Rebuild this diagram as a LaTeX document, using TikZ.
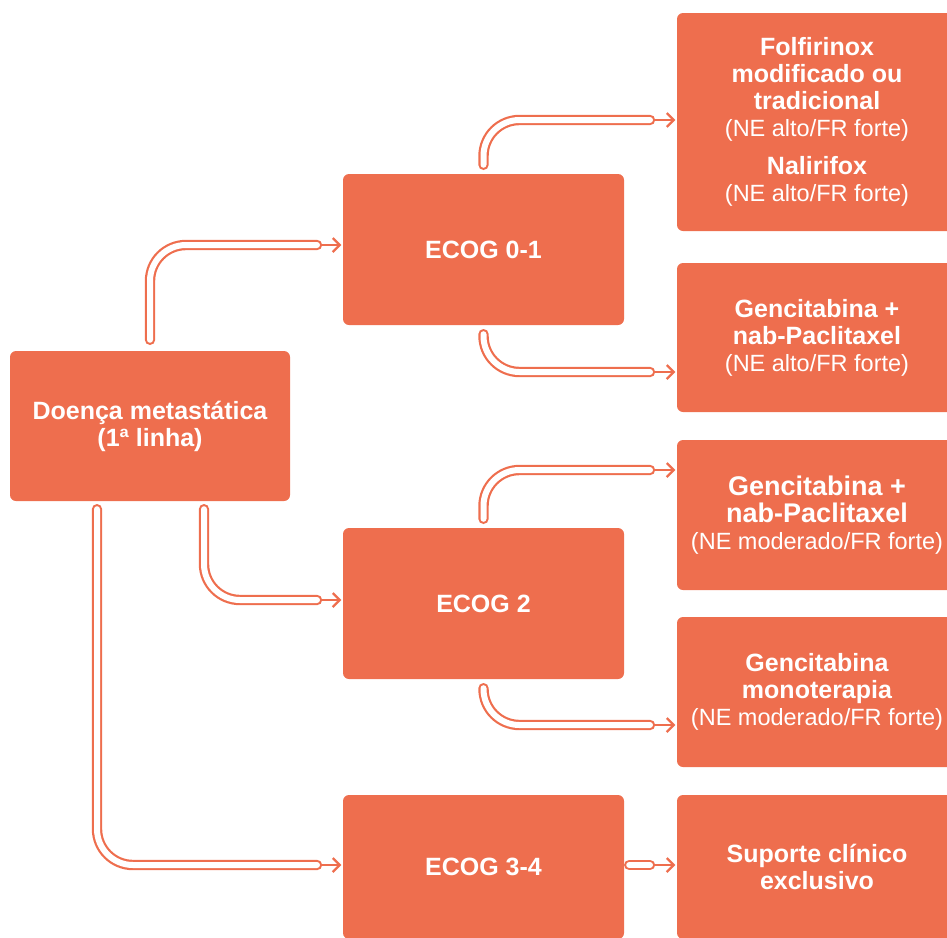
\documentclass[tikz,border=0pt]{standalone}
\usepackage{fontspec}
\setmainfont{Liberation Sans}
\usetikzlibrary{arrows.meta}
\definecolor{coral}{HTML}{EE6E4E}
\newcommand\nefr[1]{{\mdseries\fontsize{23.5}{27}\selectfont #1}}

\begin{document}
\begin{tikzpicture}[x=1pt,y=-1pt,
    box/.style={fill=coral,rounded corners=6,text=white,align=center,inner sep=0,
        font=\fontsize{25}{27}\selectfont\bfseries},
    tube/.style={draw=coral,line width=2.2,double=white,double distance=6,
        rounded corners=36,line cap=round},
    arr/.style={draw=coral,line width=2.2,-{Straight Barb[length=7,width=14]},shorten >=1.5}]
    \useasboundingbox (0,0) rectangle (947,937);
    % left column
    \node[box,minimum width=280,minimum height=150] (doenca) at (150,426) {Doença metastática\\(1ª linha)};
    % ECOG column
    \node[box,minimum width=281,minimum height=151] (ecog01) at (483.5,249.5) {ECOG 0-1};
    \node[box,minimum width=281,minimum height=151] (ecog2) at (483.5,603.5) {ECOG 2};
    \node[box,minimum width=281,minimum height=144] (ecog34) at (483.5,867) {ECOG 3-4};
    % treatments
    \node[box,minimum width=280,minimum height=218] (folfiri) at (817,122)
        {Folfirinox\\modificado ou\\tradicional\\\nefr{(NE alto/FR forte)}\\[11pt]Nalirifox\\\nefr{(NE alto/FR forte)}};
    \node[box,minimum width=280,minimum height=149] (gemnab) at (817,337.5)
        {Gencitabina +\\nab-Paclitaxel\\\nefr{(NE alto/FR forte)}};
    \node[box,minimum width=280,minimum height=150,font=\fontsize{27}{27}\selectfont\bfseries] (gemnabb) at (817,515)
        {Gencitabina +\\nab-Paclitaxel\\\nefr{(NE moderado/FR forte)}};
    \node[box,minimum width=280,minimum height=150] (gemmono) at (817,692)
        {Gencitabina\\monoterapia\\\nefr{(NE moderado/FR forte)}};
    \node[box,minimum width=280,minimum height=144] (suporte) at (817,867)
        {Suporte clínico\\exclusivo};
    % tube ends
    \coordinate (t1) at (317,245);
    \coordinate (t2) at (650,120);
    \coordinate (t3) at (650,372);
    \coordinate (t4) at (317,600);
    \coordinate (t5) at (650,470);
    \coordinate (t6) at (650,725);
    \coordinate (t7) at (317,865);
    \coordinate (t8) at (650,865);
    % arrows first, tubes on top
    \draw[arr] (t1) -- (t1 -| ecog01.west);
    \draw[arr] (t2) -- (t2 -| folfiri.west);
    \draw[arr] (t3) -- (t3 -| gemnab.west);
    \draw[arr] (t4) -- (t4 -| ecog2.west);
    \draw[arr] (t5) -- (t5 -| gemnabb.west);
    \draw[arr] (t6) -- (t6 -| gemmono.west);
    \draw[arr] (t7) -- (t7 -| ecog34.west);
    \draw[arr] (t8) -- (t8 -| suporte.west);
    \draw[tube] ([yshift=11]doenca.north) |- (t1);
    \draw[tube] ([yshift=9]ecog01.north) |- (t2);
    \draw[tube] ([yshift=-9]ecog01.south) |- (t3);
    \draw[tube] ([xshift=54,yshift=-8]doenca.south) |- (t4);
    \draw[tube] ([yshift=9]ecog2.north) |- (t5);
    \draw[tube] ([yshift=-9]ecog2.south) |- (t6);
    \draw[tube] ([xshift=-53,yshift=-8]doenca.south) |- (t7);
    \draw[tube] ([xshift=5]t8 -| ecog34.east) -- (t8);
\end{tikzpicture}
\end{document}
